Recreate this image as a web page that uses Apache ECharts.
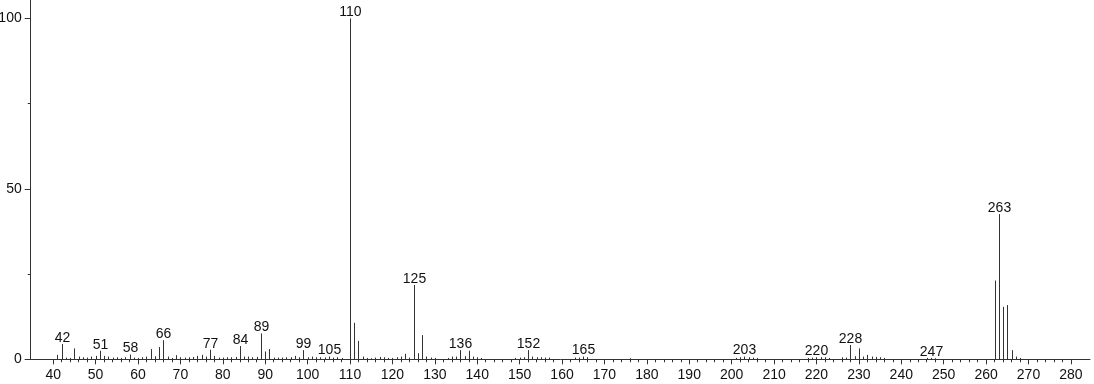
<!DOCTYPE html>
<html>
<head>
<meta charset="utf-8">
<script src="https://cdn.jsdelivr.net/npm/echarts@6/dist/echarts.min.js"></script>
<style>
html,body{margin:0;padding:0;background:#fff;}
#chart{width:1094px;height:384px;}
</style>
</head>
<body>
<div id="chart"></div>
<script>
// m/z values and relative intensities (%)
var mz = [41,42,43,44,45,46,47,48,49,50,51,52,53,54,55,56,57,58,59,60,61,62,63,64,65,66,67,68,69,70,71,72,73,74,75,76,77,78,79,80,81,82,83,84,85,86,87,88,89,90,91,92,93,94,95,96,97,98,99,100,101,102,103,104,105,106,107,108,110,111,112,113,114,115,116,117,118,119,120,121,122,123,124,125,126,127,128,129,130,133,134,135,136,137,138,139,140,141,149,150,151,152,153,154,155,156,157,163,164,165,166,176,201,202,203,204,205,206,218,219,220,221,222,223,226,227,228,229,230,231,232,233,234,235,236,246,247,248,262,263,264,265,266,267,268];
var intensity = [1.3,4.5,0.5,0.4,3.2,0.8,0.6,0.5,0.8,1.0,2.5,1.0,0.8,0.5,0.6,0.4,0.6,1.4,0.5,0.4,0.6,0.8,3.0,0.9,3.6,5.6,0.8,0.4,1.2,0.6,0.5,0.6,0.7,1.0,1.3,0.8,2.8,1.0,0.5,0.5,0.6,0.6,0.7,3.9,0.8,0.8,0.6,0.7,7.6,2.3,3.0,0.5,0.5,0.5,0.6,0.6,1.0,0.6,2.7,0.6,0.8,0.6,0.6,0.5,0.8,0.5,0.6,0.4,100,10.7,5.4,0.8,0.4,0.3,0.5,0.7,0.6,0.4,0.4,0.6,0.8,1.6,0.5,21.8,1.8,7.1,0.8,0.5,0.4,0.4,0.8,0.8,2.7,0.9,2.5,0.8,0.6,0.4,0.4,0.5,0.6,2.7,0.8,0.6,0.6,0.5,0.5,0.5,0.5,0.8,0.6,0.3,0.4,0.6,0.8,0.6,0.5,0.4,0.4,0.5,0.6,0.6,0.6,0.4,0.6,0.5,4.2,0.9,3.2,0.8,1.3,0.8,0.7,0.6,0.4,0.4,0.4,0.3,23.1,42.6,15.4,15.9,2.7,0.8,0.4];
var labeledPeaks = [42,51,58,66,77,84,89,99,105,110,125,136,152,165,203,220,228,247,263];
var xMajorTicks = [40,50,60,70,80,90,100,110,120,130,140,150,160,170,180,190,200,210,220,230,240,250,260,270,280];
var yMajorTicks = [0,50,100];
var yMinorTicks = [25,75];

var xMinorTicks = [];
for (var v = 42; v <= 278; v += 2) { if (v % 10 !== 0) xMinorTicks.push(v); }

var data = mz.map(function (m, i) { return [m, intensity[i]]; });
var labelSet = {};
labeledPeaks.forEach(function (p) { labelSet[p] = true; });

var axisColor = '#333';
var textColor = '#111';
var fontFamily = '"Liberation Sans", Arial, sans-serif';

var chart = echarts.init(document.getElementById('chart'), null, {renderer: 'canvas'});
chart.setOption({
  animation: false,
  backgroundColor: '#fff',
  grid: {left: 30.7, right: 4, top: 0, bottom: 24.7, containLabel: false, outerBoundsMode: 'none'},
  xAxis: [{
    type: 'value', min: 34.7, max: 284.5,
    axisLine: {show: true, lineStyle: {color: axisColor, width: 1}},
    axisTick: {show: true, customValues: xMajorTicks, length: 5, lineStyle: {color: axisColor}},
    axisLabel: {show: true, customValues: xMajorTicks, fontSize: 14, color: textColor, fontFamily: fontFamily, margin: 9},
    splitLine: {show: false}
  }, {
    type: 'value', min: 34.7, max: 284.5, position: 'bottom',
    axisLine: {show: false},
    axisTick: {show: true, customValues: xMinorTicks, length: 3, lineStyle: {color: axisColor}},
    axisLabel: {show: false},
    splitLine: {show: false}
  }],
  yAxis: [{
    type: 'value', min: 0, max: 105.4,
    axisLine: {show: true, lineStyle: {color: axisColor, width: 1}},
    axisTick: {show: true, customValues: yMajorTicks, length: 6, lineStyle: {color: axisColor}},
    axisLabel: {show: true, customValues: yMajorTicks, fontSize: 14, color: textColor, fontFamily: fontFamily, margin: 9},
    splitLine: {show: false}
  }, {
    type: 'value', min: 0, max: 105.4, position: 'left',
    axisLine: {show: false},
    axisTick: {show: true, customValues: yMinorTicks, length: 3, lineStyle: {color: axisColor}},
    axisLabel: {show: false},
    splitLine: {show: false}
  }],
  series: [{
    type: 'custom',
    xAxisIndex: 0, yAxisIndex: 0,
    clip: false,
    data: data,
    renderItem: function (params, api) {
      var x = api.value(0), y = api.value(1);
      var p0 = api.coord([x, 0]);
      var p1 = api.coord([x, y]);
      var px = Math.round(p0[0]) + 0.5;
      var children = [{
        type: 'line',
        shape: {x1: px, y1: p0[1], x2: px, y2: p1[1]},
        style: {stroke: '#333', lineWidth: 1}
      }];
      if (labelSet[x]) {
        children.push({
          type: 'text',
          style: {
            text: String(x), x: px, y: p1[1] + 1,
            align: 'center', verticalAlign: 'bottom',
            fill: textColor, font: '14px ' + fontFamily
          }
        });
      }
      return {type: 'group', children: children};
    }
  }]
});
</script>
</body>
</html>
